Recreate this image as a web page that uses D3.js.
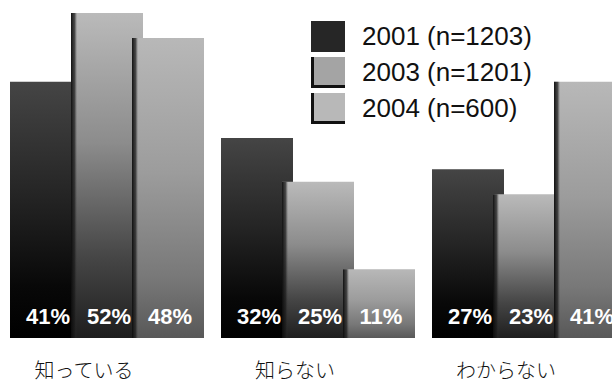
<!DOCTYPE html>
<html>
<head>
<meta charset="utf-8">
<script src="https://cdn.jsdelivr.net/npm/d3@7/dist/d3.min.js"></script>
<style>
  html, body { margin: 0; padding: 0; background: #fff; }
  svg { display: block; }
</style>
</head>
<body>
<svg id="chart" width="612" height="383"></svg>
<script>
// Awareness survey: share of respondents per answer, by survey year
const categories = ["知っている", "知らない", "わからない"];
const years = ["2001", "2003", "2004"];
const sampleSizes = [1203, 1201, 600];
const values2001 = [41, 32, 27];
const values2003 = [52, 25, 23];
const values2004 = [48, 11, 41];

const seriesValues = [values2001, values2003, values2004];
const legendLabels = years.map((y, i) => `${y} (n=${sampleSizes[i]})`);

const baseline = 338;

const svg = d3.select("#chart");
const defs = svg.append("defs");

// Vertical shading for each series: light at the top, darkening to the floor
const gradientStops = [
  [[0, "#454545"], [0.45, "#242424"], [0.8, "#080808"], [1, "#000"]],
  [[0, "#bababa"], [0.4, "#8c8c8c"], [0.75, "#464646"], [1, "#1e1e1e"]],
  [[0, "#b8b8b8"], [0.45, "#9c9c9c"], [0.8, "#787878"], [1, "#585858"]]
];
gradientStops.forEach((stops, i) => {
  const g = defs.append("linearGradient")
    .attr("id", "shade" + i)
    .attr("x1", 0).attr("y1", 0).attr("x2", 0).attr("y2", 1);
  stops.forEach(([o, c]) => g.append("stop").attr("offset", o).attr("stop-color", c));
});
// Dark left edge on each column
const edge = defs.append("linearGradient")
  .attr("id", "edgeShade")
  .attr("x1", 0).attr("y1", 0).attr("x2", 1).attr("y2", 0);
edge.append("stop").attr("offset", 0).attr("stop-color", "#0a0a0a").attr("stop-opacity", 0.95);
edge.append("stop").attr("offset", 0.6).attr("stop-color", "#1a1a1a").attr("stop-opacity", 0.7);
edge.append("stop").attr("offset", 1).attr("stop-color", "#333").attr("stop-opacity", 0);

const x0 = d3.scaleBand().domain(categories).range([10, 643]).padding(0);
const x1 = d3.scaleBand().domain(years).range([0, 183]).padding(0);
const barWidth = 72;
const y = d3.scaleLinear()
  .domain([0, d3.max(seriesValues.flat())])
  .range([baseline, 13]);

const rows = categories.map((c, ci) => ({
  category: c,
  bars: years.map((yr, si) => ({ year: yr, series: si, value: seriesValues[si][ci] }))
}));

const groups = svg.append("g").selectAll("g.group")
  .data(rows)
  .join("g")
  .attr("class", "group")
  .attr("transform", d => `translate(${x0(d.category)},0)`);

const bar = groups.selectAll("g.bar")
  .data(d => d.bars)
  .join("g")
  .attr("class", "bar");

bar.append("rect")
  .attr("x", d => x1(d.year))
  .attr("y", d => y(d.value))
  .attr("width", barWidth)
  .attr("height", d => y(0) - y(d.value))
  .attr("fill", d => `url(#shade${d.series})`);

bar.filter(d => d.series > 0).append("rect")
  .attr("x", d => x1(d.year))
  .attr("y", d => y(d.value))
  .attr("width", 6)
  .attr("height", d => y(0) - y(d.value))
  .attr("fill", "url(#edgeShade)");

// Value labels along the foot of the columns
groups.selectAll("text.value")
  .data(d => d.bars)
  .join("text")
  .attr("class", "value")
  .attr("x", d => x1(d.year) + barWidth / 2 + 2)
  .attr("y", 324)
  .attr("text-anchor", "middle")
  .attr("font-family", "'Liberation Sans', Arial, sans-serif")
  .attr("font-weight", "bold")
  .attr("font-size", 22)
  .attr("fill", "#fff")
  .text(d => d.value + "%");

// Category labels
svg.append("g").selectAll("text.cat")
  .data(categories)
  .join("text")
  .attr("class", "cat")
  .attr("x", d => x0(d) + 74)
  .attr("y", 378)
  .attr("text-anchor", "middle")
  .attr("font-family", "'Noto Sans CJK JP', sans-serif")
  .attr("font-weight", 300)
  .attr("font-size", 20)
  .attr("fill", "#111")
  .text(d => d);

// Legend
const legendFills = ["#262626", "#a4a4a4", "#b8b8b8"];
const legend = svg.append("g").attr("transform", "translate(311,21)");
const legendItem = legend.selectAll("g")
  .data(legendLabels)
  .join("g")
  .attr("transform", (d, i) => `translate(0,${i * 36})`);
legendItem.append("rect")
  .attr("width", 34).attr("height", 31)
  .attr("fill", (d, i) => legendFills[i]);
legendItem.filter((d, i) => i > 0).append("path")
  .attr("d", "M1.5,0 V29.5 H34")
  .attr("fill", "none")
  .attr("stroke", "#111")
  .attr("stroke-width", 3);
legendItem.append("text")
  .attr("x", 51)
  .attr("y", 24)
  .attr("font-family", "'Liberation Sans', Arial, sans-serif")
  .attr("font-size", 26)
  .attr("fill", "#111")
  .text(d => d);
</script>
</body>
</html>
